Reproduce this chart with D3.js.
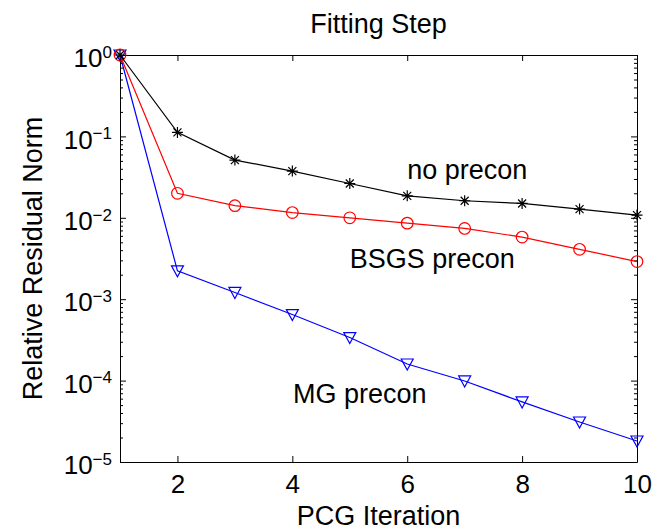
<!DOCTYPE html>
<html>
<head>
<meta charset="utf-8">
<script src="https://cdn.jsdelivr.net/npm/d3@7"></script>
<style>
  body { margin: 0; background: #fff; }
  svg { display: block; font-family: "Liberation Sans", Arial, Helvetica, sans-serif; }
</style>
</head>
<body>
<div id="chart"></div>
<script>
// PCG iterations
const iterations = [1, 2, 3, 4, 5, 6, 7, 8, 9, 10];

// relative residual norm per preconditioner
const noPrecon   = [1, 0.112, 0.0512, 0.0375, 0.0264, 0.0186, 0.0162, 0.0150, 0.0128, 0.0108];
const bsgsPrecon = [1, 0.0200, 0.0141, 0.0116, 0.0100, 0.0086, 0.0074, 0.0058, 0.0041, 0.0029];
const mgPrecon   = [1, 2.23e-3, 1.21e-3, 6.48e-4, 3.38e-4, 1.60e-4, 9.9e-5, 5.47e-5, 3.10e-5, 1.81e-5];

const xTicks = [2, 4, 6, 8, 10];
const yTicks = [1e-5, 1e-4, 1e-3, 1e-2, 1e-1, 1];
const yTickExp = ['\u22125', '\u22124', '\u22123', '\u22122', '\u22121', '0'];

// text labels placed in data coordinates
const labelText = ['no precon', 'BSGS precon', 'MG precon'];
const labelX = [6, 5, 4.01];
const labelY = [0.0299, 0.0024, 5.27e-5];

const width = 661, height = 532;
const margin = {top: 55, right: 24, bottom: 70, left: 120};
const innerW = width - margin.left - margin.right;
const innerH = height - margin.top - margin.bottom;

const svg = d3.select('#chart').append('svg')
    .attr('width', width)
    .attr('height', height);

const x = d3.scaleLinear().domain([1, 10]).range([0, innerW]);
const y = d3.scaleLog().domain([1e-5, 1]).range([innerH, 0]);

const g = svg.append('g')
    .attr('transform', `translate(${margin.left},${margin.top})`);

// minor log ticks
const minors = [];
for (let e = -5; e < 0; e++) {
    for (let m = 2; m <= 9; m++) minors.push(m * Math.pow(10, e));
}

function styleAxis(sel) {
    sel.selectAll('path, line').attr('stroke', '#000').attr('stroke-width', 1);
    sel.selectAll('text').attr('fill', '#000').attr('font-size', 26);
}

// bottom
g.append('g')
    .attr('transform', `translate(0,${innerH})`)
    .call(d3.axisBottom(x).tickValues(xTicks).tickSizeInner(-6).tickSizeOuter(0).tickPadding(13))
    .call(styleAxis)
    .call(a => a.selectAll('text').attr('dy', '0.7em'));

// top
g.append('g')
    .call(d3.axisTop(x).tickValues(xTicks).tickSizeInner(-6).tickSizeOuter(0).tickFormat(''))
    .call(styleAxis);

// left
const left = g.append('g')
    .call(d3.axisLeft(y).tickValues(yTicks).tickSizeInner(-6).tickSizeOuter(0).tickPadding(8).tickFormat(''))
    .call(styleAxis);
left.selectAll('.tick text')
    .attr('dy', '0.45em')
    .each(function(d, i) {
        const t = d3.select(this);
        t.append('tspan').text('10');
        t.append('tspan').attr('dy', '-0.55em').attr('font-size', 17).text(yTickExp[i]);
    });

g.append('g')
    .call(d3.axisLeft(y).tickValues(minors).tickSizeInner(-3).tickSizeOuter(0).tickFormat(''))
    .call(styleAxis)
    .call(a => a.select('.domain').remove());

// right
g.append('g')
    .attr('transform', `translate(${innerW},0)`)
    .call(d3.axisRight(y).tickValues(yTicks).tickSizeInner(-6).tickSizeOuter(0).tickFormat(''))
    .call(styleAxis);
g.append('g')
    .attr('transform', `translate(${innerW},0)`)
    .call(d3.axisRight(y).tickValues(minors).tickSizeInner(-3).tickSizeOuter(0).tickFormat(''))
    .call(styleAxis)
    .call(a => a.select('.domain').remove());

const line = d3.line()
    .x((d, i) => x(iterations[i]))
    .y(d => y(d));

const series = [
    {values: mgPrecon, color: '#0000ff', marker: 'tri'},
    {values: bsgsPrecon, color: '#ff0000', marker: 'circle'},
    {values: noPrecon, color: '#000000', marker: 'star'}
];

series.forEach(s => {
    g.append('path')
        .datum(s.values)
        .attr('fill', 'none')
        .attr('stroke', s.color)
        .attr('stroke-width', 1.2)
        .attr('d', line);

    const pts = g.append('g').selectAll('g')
        .data(s.values)
        .enter().append('g')
        .attr('transform', (d, i) => `translate(${x(iterations[i])},${y(d)})`);

    if (s.marker === 'circle') {
        pts.append('circle')
            .attr('r', 5.8)
            .attr('fill', 'none')
            .attr('stroke', s.color)
            .attr('stroke-width', 1.2);
    } else if (s.marker === 'tri') {
        pts.append('path')
            .attr('d', 'M-6,-5L6,-5L0,6Z')
            .attr('fill', 'none')
            .attr('stroke', s.color)
            .attr('stroke-width', 1.2);
    } else {
        pts.append('path')
            .attr('d', 'M-5.5,0L5.5,0M0,-5.5L0,5.5M-4,-4L4,4M-4,4L4,-4')
            .attr('fill', 'none')
            .attr('stroke', s.color)
            .attr('stroke-width', 1.2);
    }
});

// in-plot labels
g.selectAll('.lbl')
    .data(labelText)
    .enter().append('text')
    .attr('class', 'lbl')
    .attr('x', (d, i) => x(labelX[i]))
    .attr('y', (d, i) => y(labelY[i]))
    .attr('font-size', 27)
    .attr('fill', '#000')
    .text(d => d);

// title and axis labels
svg.append('text')
    .attr('x', margin.left + innerW / 2)
    .attr('y', 33)
    .attr('text-anchor', 'middle')
    .attr('font-size', 27)
    .text('Fitting Step');

svg.append('text')
    .attr('x', margin.left + innerW / 2)
    .attr('y', 525)
    .attr('text-anchor', 'middle')
    .attr('font-size', 27)
    .text('PCG Iteration');

svg.append('text')
    .attr('transform', `translate(42,${margin.top + innerH / 2}) rotate(-90)`)
    .attr('text-anchor', 'middle')
    .attr('font-size', 27)
    .text('Relative Residual Norm');
</script>
</body>
</html>
